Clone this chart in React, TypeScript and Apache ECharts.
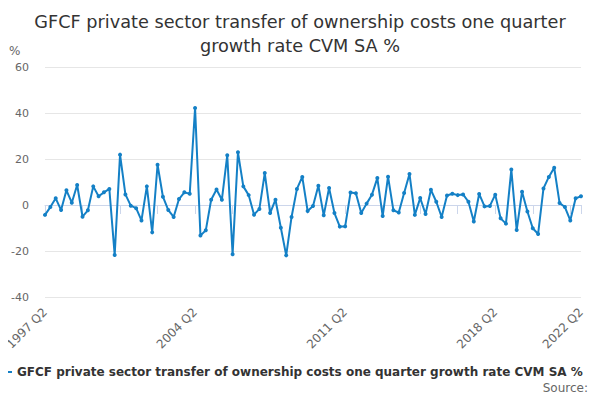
import React, { useEffect, useRef } from "react";
import * as echarts from "echarts";

const startYear = 1997;
const startQuarter = 2;
const values: number[] = [
  -4.3, -0.9, 2.9, -2.2, 6.4, 1.0, 8.7, -5.1, -2.3, 8.1,
  3.8, 5.5, 7.0, -21.7, 21.9, 4.6, -0.3, -1.4, -6.7, 8.1,
  -11.9, 17.5, 3.6, -2.2, -5.2, 2.6, 5.5, 4.9, 42.2, -13.3,
  -11.0, 2.3, 6.7, 2.3, 21.6, -21.4, 22.9, 8.1, 4.3, -4.2,
  -1.7, 13.9, -3.5, 2.3, -9.9, -21.9, -5.2, 7.0, 12.2, -2.6,
  -0.4, 8.4, -4.5, 7.4, -3.5, -9.4, -9.3, 5.4, 5.1, -3.5,
  0.6, 4.5, 11.7, -4.8, 12.3, -2.3, -3.3, 5.2, 13.5, -4.3,
  3.0, -3.9, 6.6, 1.4, -5.2, 4.1, 4.9, 4.3, 4.6, 1.4,
  -7.2, 4.8, -0.6, -0.4, 4.5, -5.8, -8.1, 15.4, -10.9, 5.8,
  -2.8, -10.1, -12.6, 7.2, 12.2, 16.2, 0.9, -0.9, -6.7, 2.9,
  3.8,
];

const categories: string[] = values.map((_, i) => {
  const q = startQuarter - 1 + i;
  return `${startYear + Math.floor(q / 4)} Q${(q % 4) + 1}`;
});

const titleText =
  "GFCF private sector transfer of ownership costs one quarter\ngrowth rate CVM SA %";
const seriesName =
  "GFCF private sector transfer of ownership costs one quarter growth rate CVM SA %";

const FONT = "DejaVu Sans";
const COLOR = "#1480c6";
const lastIndex = values.length - 1;

export default function App() {
  const ref = useRef<HTMLDivElement>(null);
  useEffect(() => {
    if (!ref.current) return;
    const chart = echarts.init(ref.current, undefined, { renderer: "svg" });
    chart.setOption({
      animation: false,
      backgroundColor: "#ffffff",
      title: {
        text: titleText,
        left: "center",
        top: 5,
        textStyle: {
          fontFamily: FONT,
          fontSize: 17.7,
          fontWeight: "normal",
          color: "#333333",
          lineHeight: 24,
        },
      },
      legend: {
        data: [seriesName],
        left: -3,
        top: 366,
        width: 700,
        padding: 0,
        itemWidth: 14,
        itemHeight: 6,
        itemGap: 5,
        textStyle: {
          fontFamily: FONT,
          fontSize: 12,
          fontWeight: "bold",
          color: "#333333",
        },
      },
      graphic: [
        {
          type: "text",
          left: 9,
          top: 45,
          style: { text: "%", fontFamily: FONT, fontSize: 12, fill: "#666666" },
        },
        {
          type: "text",
          right: 12,
          top: 382,
          style: { text: "Source:", fontFamily: FONT, fontSize: 12, fill: "#666666" },
        },
      ],
      grid: { left: 45, right: 19, top: 67, bottom: 103, containLabel: false },
      xAxis: {
        type: "category",
        data: categories,
        boundaryGap: false,
        axisLine: { lineStyle: { color: "#ccd6eb" } },
        axisTick: {
          length: 9,
          lineStyle: { color: "#ccd6eb" },
          interval: (i: number) => i % 7 === 0 || i === lastIndex,
        },
        axisLabel: {
          rotate: 45,
          interval: (i: number) => i % 28 === 0 || i === lastIndex,
          fontFamily: FONT,
          fontSize: 12,
          color: "#666666",
          margin: 13,
        },
        splitLine: { show: false },
      },
      yAxis: {
        type: "value",
        min: -40,
        max: 60,
        interval: 20,
        axisLine: { show: false },
        axisTick: { show: false },
        axisLabel: {
          fontFamily: FONT,
          fontSize: 11,
          color: "#666666",
          margin: 16,
        },
        splitLine: { lineStyle: { color: "#e6e6e6" } },
      },
      series: [
        {
          name: seriesName,
          type: "line",
          data: values,
          color: COLOR,
          lineStyle: { width: 2, color: COLOR },
          symbol: "circle",
          symbolSize: 4,
          showSymbol: true,
          showAllSymbol: true,
          itemStyle: { color: COLOR },
        },
      ],
    });
    return () => chart.dispose();
  }, []);
  return <div ref={ref} style={{ width: 600, height: 400, margin: -8 }} />;
}
